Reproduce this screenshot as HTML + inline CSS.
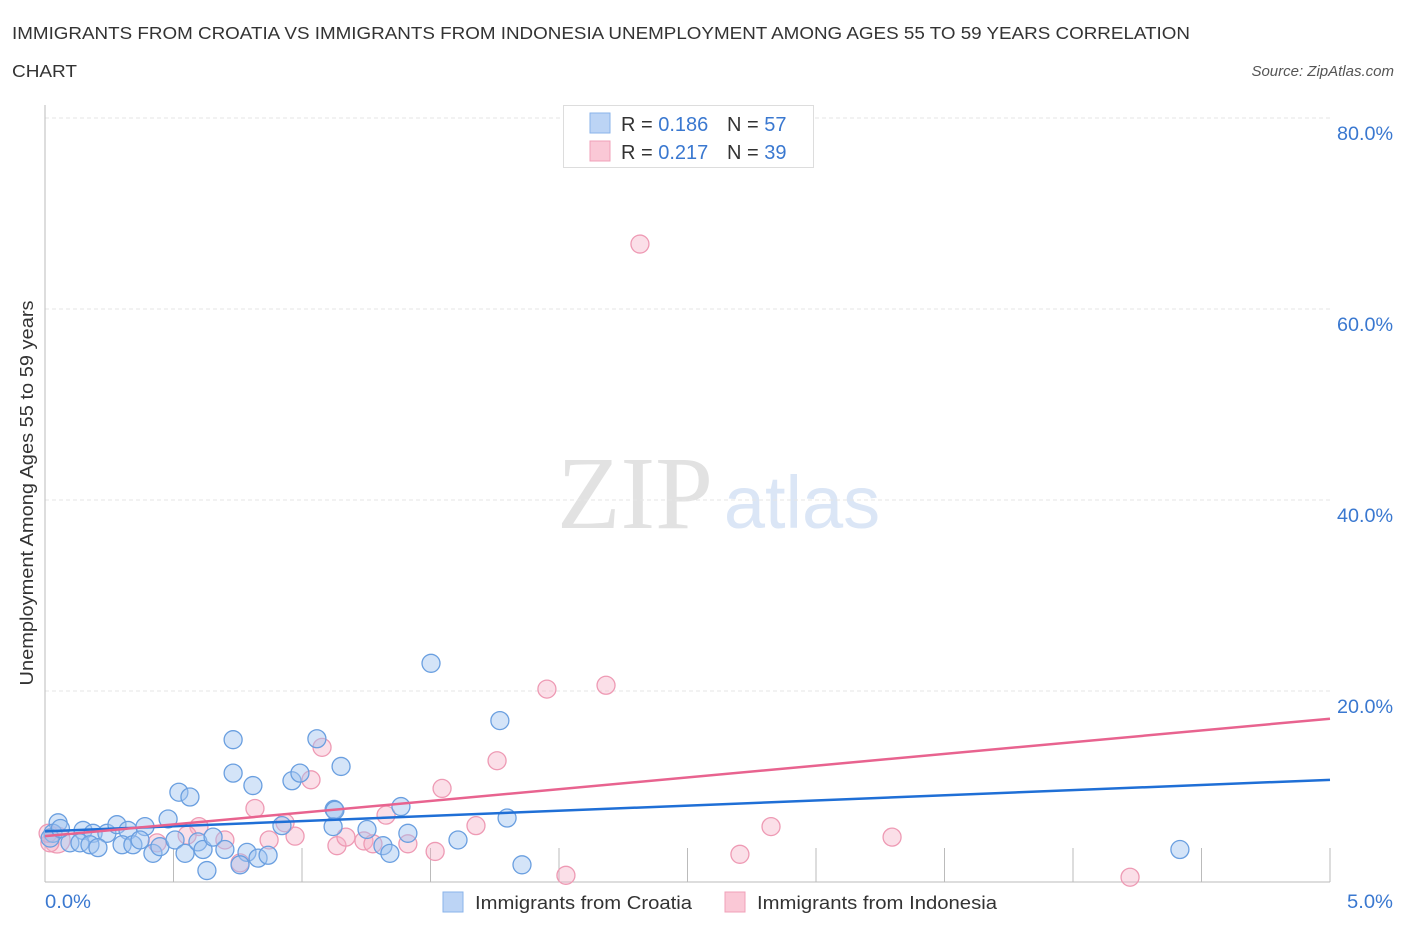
<!DOCTYPE html>
<html><head><meta charset="utf-8"><style>
body{margin:0;background:#fff;width:1406px;height:930px;overflow:hidden;font-family:"Liberation Sans",sans-serif}
svg{display:block}
</style></head><body>
<svg id="chart" width="1406" height="930">
<text x="12" y="39" font-size="17.5" fill="#333" textLength="1178" lengthAdjust="spacingAndGlyphs">IMMIGRANTS FROM CROATIA VS IMMIGRANTS FROM INDONESIA UNEMPLOYMENT AMONG AGES 55 TO 59 YEARS CORRELATION</text>
<text x="12" y="77" font-size="17.5" fill="#333" textLength="65" lengthAdjust="spacingAndGlyphs">CHART</text>
<text x="1394" y="76" font-size="15" fill="#555" font-style="italic" text-anchor="end">Source: ZipAtlas.com</text>
<text x="635" y="528" font-size="104" fill="#e2e2e2" font-family="Liberation Serif,serif" text-anchor="middle">ZIP</text>
<text x="802" y="528" font-size="74" fill="#dbe6f6" text-anchor="middle">atlas</text>
<g id="grid"></g>
<g id="axes"></g>
<g id="marks"></g>
<g>
<rect x="563.5" y="105.5" width="250" height="62" fill="#fff" stroke="#ddd"/>
<rect x="590" y="113" width="20" height="20" fill="#bcd4f5" stroke="#8ab3ea"/>
<text x="621" y="131" font-size="20" fill="#333">R = <tspan fill="#3a78d0">0.186</tspan><tspan x="727">N = </tspan><tspan fill="#3a78d0">57</tspan></text>
<rect x="590" y="141" width="20" height="20" fill="#fac8d6" stroke="#f0a0b8"/>
<text x="621" y="159" font-size="20" fill="#333">R = <tspan fill="#3a78d0">0.217</tspan><tspan x="727">N = </tspan><tspan fill="#3a78d0">39</tspan></text>
</g>
<g>
<rect x="443" y="892" width="20" height="20" fill="#bcd4f5" stroke="#8ab3ea"/>
<text x="475" y="909" font-size="18.5" fill="#333" textLength="217" lengthAdjust="spacingAndGlyphs">Immigrants from Croatia</text>
<rect x="725" y="892" width="20" height="20" fill="#fac8d6" stroke="#f0a0b8"/>
<text x="757" y="909" font-size="18.5" fill="#333" textLength="240" lengthAdjust="spacingAndGlyphs">Immigrants from Indonesia</text>
</g>
</svg>
<script>
const yTicks=[20,40,60,80];
const xTickLabels=["0.0%","5.0%"];
const blueX=[0.732,0.732,0.809,0.521,0.564,0.479,1.058,1.152,0.961,0.992,1.125,1.121,0.922,0.051,0.031,0.148,0.187,0.241,0.280,0.323,0.389,0.097,0.136,0.175,0.206,0.300,0.342,0.370,0.420,0.447,0.506,0.545,0.595,0.615,0.654,0.700,0.630,0.786,0.829,0.868,0.759,1.502,1.770,1.128,1.385,1.798,1.253,1.412,1.607,1.315,1.342,1.856,4.416,0.02,0.06];
const blueY=[14.9,11.4,10.1,9.4,8.9,6.6,15.0,12.1,10.6,11.4,7.6,5.8,5.9,6.2,5.1,5.4,5.1,5.1,6.0,5.4,5.8,4.1,4.1,3.9,3.6,3.9,3.9,4.4,3.0,3.7,4.4,3.0,4.2,3.4,4.7,3.4,1.2,3.1,2.5,2.8,1.8,22.9,16.9,7.5,7.9,6.7,5.5,5.1,4.4,3.8,3.0,1.8,3.4,4.6,5.6];
const pinkX=[2.315,1.953,2.183,1.759,1.545,2.825,3.296,2.704,4.222,2.027,0.047,0.019,1.078,1.035,0.817,0.872,0.973,1.136,1.171,0.599,0.700,0.553,0.759,0.012,0.436,0.934,1.241,1.276,1.327,1.412,1.518,1.677];
const pinkY=[66.8,20.2,20.6,12.7,9.8,5.8,4.7,2.9,0.5,0.7,4.4,4.1,14.1,10.7,7.7,4.4,4.8,3.8,4.7,5.8,4.4,4.9,2.0,5.1,4.1,6.2,4.3,4.0,7.0,4.0,3.2,5.9];
const blueTrend=[5.3,10.7];
const pinkTrend=[4.8,17.1];
const X=v=>45+v/5*1285, Y=v=>882-v/20*191;
const NS="http://www.w3.org/2000/svg";
function mk(t,a,p){const e=document.createElementNS(NS,t);for(const k in a)e.setAttribute(k,a[k]);p.appendChild(e);return e;}
const grid=document.getElementById('grid'),axes=document.getElementById('axes'),marks=document.getElementById('marks');
yTicks.forEach(v=>{
 const l=mk('line',{x1:45,x2:1330,y1:Y(v),y2:Y(v),stroke:'#e6e6e6','stroke-dasharray':'4,3'},grid);
 
 
 const t=mk('text',{x:1393,y:Y(v)+22,'font-size':19,fill:'#3a78d0','text-anchor':'end',textLength:56,lengthAdjust:'spacingAndGlyphs'},axes);
 t.textContent=v.toFixed(1)+'%';
 
 
});
let a=mk('line',{x1:45,x2:45,y1:105,y2:882,stroke:'#bbb'},axes);


a=mk('line',{x1:45,x2:1330,y1:882,y2:882,stroke:'#bbb'},axes);


for(let i=1;i<=10;i++){const l=mk('line',{x1:X(i*0.5),x2:X(i*0.5),y1:848,y2:882,stroke:'#bbb'},axes);
 
 }
[[0,'start',45],[5,'end',1393]].forEach((d,i)=>{const t=mk('text',{x:d[2],y:908,'font-size':19,fill:'#3a78d0','text-anchor':d[1],textLength:46,lengthAdjust:'spacingAndGlyphs'},axes);t.textContent=xTickLabels[i];
 
 });
const yt=mk('text',{x:33,y:493,'font-size':18,fill:'#333','text-anchor':'middle',transform:'rotate(-90 33 493)',textLength:385,lengthAdjust:'spacingAndGlyphs'},axes);
yt.textContent='Unemployment Among Ages 55 to 59 years';


pinkX.forEach((x,i)=>{const c=mk('circle',{cx:X(x),cy:Y(pinkY[i]),r:i==10?13:9,fill:'rgba(246,176,198,0.4)',stroke:'#ee9ab4','stroke-width':1.3},marks);
 
 });
blueX.forEach((x,i)=>{const c=mk('circle',{cx:X(x),cy:Y(blueY[i]),r:9,fill:'rgba(160,196,240,0.45)',stroke:'#6a9fe0','stroke-width':1.3},marks);
 
 });
let t1=mk('line',{x1:X(0),x2:X(5),y1:Y(blueTrend[0]),y2:Y(blueTrend[1]),stroke:'#1f6fd6','stroke-width':2.5},marks);


let t2=mk('line',{x1:X(0),x2:X(5),y1:Y(pinkTrend[0]),y2:Y(pinkTrend[1]),stroke:'#e8638f','stroke-width':2.5},marks);


</script>
</body></html>
